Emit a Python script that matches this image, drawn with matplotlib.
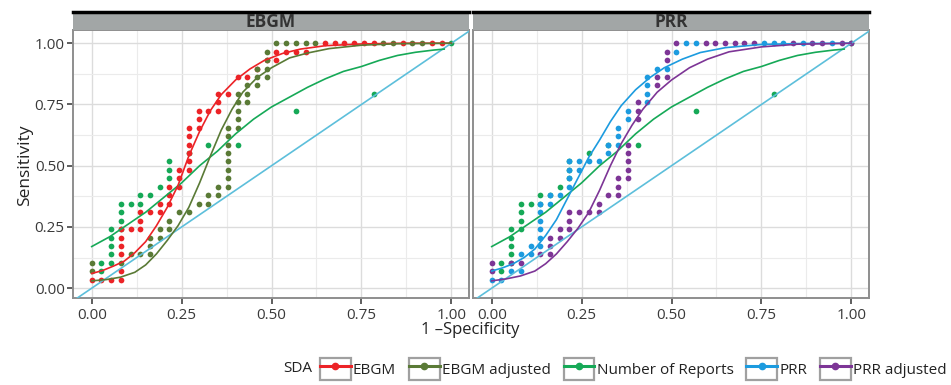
import matplotlib
matplotlib.use("Agg")
import matplotlib.pyplot as plt
from matplotlib.legend_handler import HandlerLine2D
from matplotlib.lines import Line2D
from matplotlib.patches import Rectangle
import numpy as np

plt.rcParams["font.family"] = ["Open Sans", "DejaVu Sans"]

# ROC points as counts: false positives out of 37 negatives, true positives out of 29 positives
N_NEG = 37
N_POS = 29

fp_ebgm = [0, 1, 2, 3, 3, 3, 3, 3, 3, 4, 5, 5, 5, 6, 7, 7, 8, 8, 8, 9, 9, 9, 10, 10, 10, 10, 10, 10,
           11, 11, 11, 12, 13, 13, 13, 14, 15, 16, 17, 18, 19, 19, 20, 21, 22, 24, 25, 26, 27, 28, 29, 32, 35, 36]
tp_ebgm = [1, 1, 1, 1, 2, 4, 5, 6, 7, 7, 7, 8, 9, 9, 9, 10, 10, 11, 12, 12, 13, 14, 14, 15, 16, 17, 18, 19,
           19, 20, 21, 21, 21, 22, 23, 23, 25, 25, 26, 27, 27, 28, 28, 28, 28, 29, 29, 29, 29, 29, 29, 29, 29, 29]

fp_ebgm_adj = [0, 0, 3, 4, 5, 6, 6, 6, 7, 7, 8, 8, 9, 10, 11, 12, 12, 13, 13, 14, 14, 14, 14, 14, 14, 14, 14,
               15, 15, 15, 15, 15, 16, 16, 16, 17, 17, 17, 18, 18, 18, 18, 19, 20, 21, 22, 23, 30, 31, 33, 34]
tp_ebgm_adj = [2, 3, 3, 4, 4, 4, 5, 6, 6, 7, 7, 8, 9, 9, 10, 10, 11, 11, 12, 12, 13, 14, 15, 16, 17, 18, 19,
               19, 20, 21, 22, 23, 22, 23, 24, 24, 25, 26, 25, 26, 27, 28, 29, 29, 29, 29, 29, 29, 29, 29, 29]

fp_reports = [1, 1, 2, 2, 2, 2, 2, 3, 3, 3, 3, 4, 5, 5, 6, 7, 8, 8, 8, 10, 12, 15, 21, 29, 37]
tp_reports = [2, 3, 3, 4, 5, 6, 7, 7, 8, 9, 10, 10, 10, 11, 11, 12, 13, 14, 15, 16, 17, 17, 21, 23, 29]

fp_prr = [0, 1, 2, 3, 3, 4, 4, 5, 5, 5, 5, 5, 5, 6, 6, 7, 8, 8, 8, 8, 9, 9, 10, 11, 12, 12, 13, 13, 13,
          14, 14, 16, 16, 16, 16, 17, 18, 19, 20, 21, 28, 29, 30, 32, 35]
tp_prr = [1, 1, 2, 2, 4, 4, 5, 5, 6, 7, 8, 9, 10, 10, 11, 11, 12, 13, 14, 15, 14, 15, 15, 15, 16, 17, 17, 18, 19,
          20, 21, 22, 23, 24, 25, 26, 26, 28, 29, 29, 29, 29, 29, 29, 29]

fp_prr_adj = [0, 0, 2, 3, 5, 6, 6, 6, 7, 7, 8, 8, 8, 9, 10, 11, 11, 12, 13, 13, 13, 14, 14, 14, 14, 14,
              15, 15, 15, 17, 17, 18, 18, 18, 19, 22, 23, 24, 25, 26, 27, 31, 33, 34, 36, 37]
tp_prr_adj = [2, 3, 3, 3, 4, 4, 5, 6, 6, 7, 7, 8, 9, 9, 9, 9, 10, 11, 11, 12, 13, 13, 14, 15, 16, 17,
              20, 21, 22, 24, 25, 25, 27, 28, 29, 29, 29, 29, 29, 29, 29, 29, 29, 29, 29, 29]

# fitted curves
fit_ebgm_x = [0, 0.03, 0.06, 0.09, 0.12, 0.15, 0.18, 0.21, 0.24, 0.27, 0.30, 0.33, 0.36, 0.40, 0.44,
              0.48, 0.53, 0.58, 0.65, 0.75, 0.87, 1.0]
fit_ebgm_y = [0.06, 0.072, 0.09, 0.11, 0.145, 0.19, 0.255, 0.33, 0.42, 0.54, 0.64, 0.725, 0.79, 0.85, 0.895,
              0.93, 0.958, 0.976, 0.99, 0.997, 1.0, 1.0]
fit_ebgm_adj_x = [0, 0.04, 0.08, 0.12, 0.15, 0.18, 0.21, 0.24, 0.27, 0.30, 0.33, 0.36, 0.39, 0.42, 0.46,
                  0.50, 0.55, 0.60, 0.66, 0.75, 0.85, 1.0]
fit_ebgm_adj_y = [0.03, 0.035, 0.045, 0.065, 0.095, 0.14, 0.195, 0.255, 0.33, 0.43, 0.54, 0.645, 0.73, 0.8,
                  0.86, 0.9, 0.94, 0.96, 0.978, 0.992, 0.998, 1.0]
fit_reports_x = [0, 0.05, 0.10, 0.15, 0.20, 0.25, 0.30, 0.35, 0.40, 0.45, 0.50, 0.55, 0.60, 0.65, 0.70,
                 0.75, 0.80, 0.85, 0.90, 0.95, 0.98]
fit_reports_y = [0.17, 0.21, 0.26, 0.31, 0.37, 0.43, 0.50, 0.56, 0.63, 0.69, 0.74, 0.78, 0.82, 0.855, 0.885,
                 0.905, 0.93, 0.95, 0.963, 0.972, 0.976]
fit_prr_x = [0, 0.03, 0.06, 0.09, 0.12, 0.15, 0.18, 0.21, 0.24, 0.27, 0.30, 0.33, 0.36, 0.40, 0.44,
             0.48, 0.53, 0.58, 0.65, 0.75, 0.87, 1.0]
fit_prr_y = [0.07, 0.083, 0.10, 0.125, 0.16, 0.215, 0.28, 0.365, 0.45, 0.535, 0.605, 0.68, 0.745, 0.81, 0.86,
             0.9, 0.935, 0.962, 0.982, 0.995, 0.999, 1.0]
fit_prr_adj_x = [0, 0.04, 0.08, 0.12, 0.15, 0.18, 0.21, 0.24, 0.27, 0.30, 0.33, 0.36, 0.39, 0.42, 0.46,
                 0.50, 0.55, 0.60, 0.66, 0.75, 0.85, 1.0]
fit_prr_adj_y = [0.03, 0.038, 0.05, 0.07, 0.1, 0.14, 0.19, 0.245, 0.31, 0.4, 0.5, 0.59, 0.665, 0.73, 0.8,
                 0.85, 0.9, 0.935, 0.965, 0.985, 0.996, 1.0]

labels = ["EBGM", "EBGM adjusted", "Number of Reports", "PRR", "PRR adjusted"]
colors = {"EBGM": "#EC2327", "EBGM adjusted": "#5A7A36", "Number of Reports": "#16A957",
          "PRR": "#1C9BDF", "PRR adjusted": "#7D3596"}
diag_color = "#5DBFDB"

W, H = 951, 385
fig = plt.figure(figsize=(W / 100, H / 100), dpi=100)

panels = [
    ("EBGM", 73, [("Number of Reports", fp_reports, tp_reports, fit_reports_x, fit_reports_y),
                  ("EBGM", fp_ebgm, tp_ebgm, fit_ebgm_x, fit_ebgm_y),
                  ("EBGM adjusted", fp_ebgm_adj, tp_ebgm_adj, fit_ebgm_adj_x, fit_ebgm_adj_y)]),
    ("PRR", 473, [("Number of Reports", fp_reports, tp_reports, fit_reports_x, fit_reports_y),
                  ("PRR", fp_prr, tp_prr, fit_prr_x, fit_prr_y),
                  ("PRR adjusted", fp_prr_adj, tp_prr_adj, fit_prr_adj_x, fit_prr_adj_y)]),
]

ticks = [0, 0.25, 0.5, 0.75, 1.0]
tick_labels = ["0.00", "0.25", "0.50", "0.75", "1.00"]

for k, (title, left_px, series) in enumerate(panels):
    ax = fig.add_axes([left_px / W, 1 - 298 / H, 396 / W, 268 / H])
    ax.set_xlim(-0.052, 1.049)
    ax.set_ylim(-0.04, 1.054)
    ax.set_xticks(ticks)
    ax.set_xticklabels(tick_labels)
    ax.set_yticks(ticks)
    ax.set_xticks([0.125, 0.375, 0.625, 0.875], minor=True)
    ax.set_yticks([0.125, 0.375, 0.625, 0.875], minor=True)
    ax.grid(True, which="major", color="#dcdcdc", lw=1.0)
    ax.grid(True, which="minor", color="#ebebeb", lw=0.8)
    ax.set_axisbelow(True)
    for sp in ax.spines.values():
        sp.set_color("#8e8e8e")
        sp.set_linewidth(1.4)
    ax.tick_params(which="minor", length=0)
    ax.tick_params(which="major", length=4, width=1.1, color="#333333",
                   labelsize=11, labelcolor="#3a3a3a", pad=2)
    ax.tick_params(axis="x", pad=3)
    if k == 0:
        ax.set_yticklabels(tick_labels)
    else:
        ax.tick_params(axis="y", length=0, labelleft=False)

    for name, fp, tp, fx, fy in series:
        ax.scatter(np.array(fp) / N_NEG, np.array(tp) / N_POS, s=17,
                   color=colors[name], lw=0, zorder=3)
    ax.axline((0, 0), (1, 1), color=diag_color, lw=1.2, zorder=4)
    for name, fp, tp, fx, fy in series:
        ax.plot(fx, fy, color=colors[name], lw=1.2, zorder=4)

    # facet strip
    sax = fig.add_axes([left_px / W, 1 - 30 / H, 396 / W, 18 / H])
    sax.set_facecolor("#A2A6A6")
    sax.set_xticks([])
    sax.set_yticks([])
    for sp in sax.spines.values():
        sp.set_visible(False)
    sax.spines["top"].set_visible(True)
    sax.spines["top"].set_color("black")
    sax.spines["top"].set_linewidth(2.5)
    sax.text(0.5, 0.45, title, ha="center", va="center", fontsize=12.5,
             fontweight="bold", color="#333333", transform=sax.transAxes)

fig.text(25 / W, 1 - 165 / H, "Sensitivity", rotation=90, ha="center", va="center",
         fontsize=12.5, color="#222222")
fig.text(470 / W, 1 - 330 / H, "1 \u2013Specificity", ha="center", va="center",
         fontsize=12, color="#222222")


class BoxedKey(HandlerLine2D):
    def create_artists(self, legend, orig_handle, xdescent, ydescent, width, height, fontsize, trans):
        arts = super().create_artists(legend, orig_handle, xdescent, ydescent, width, height, fontsize, trans)
        box = Rectangle((-xdescent, -ydescent), width, height, fill=False,
                        edgecolor="#a0a0a0", lw=1.6, transform=trans)
        return [box] + list(arts)


handles = [Line2D([], [], color=colors[n], lw=2.2, marker="o", markersize=4.5) for n in labels]
fig.text(298 / W, 1 - 369 / H, "SDA", ha="center", va="center", fontsize=11, color="#222222")
leg = fig.legend(handles, labels, loc="center left", bbox_to_anchor=(320 / W, 1 - 369 / H),
                 ncol=5, frameon=False, fontsize=11, handlelength=2.0, handleheight=1.9,
                 handletextpad=0.15, columnspacing=0.85, borderpad=0, borderaxespad=0,
                 numpoints=1, handler_map={Line2D: BoxedKey()})
for t in leg.get_texts():
    t.set_color("#222222")

fig.savefig("out.png", dpi=100)
